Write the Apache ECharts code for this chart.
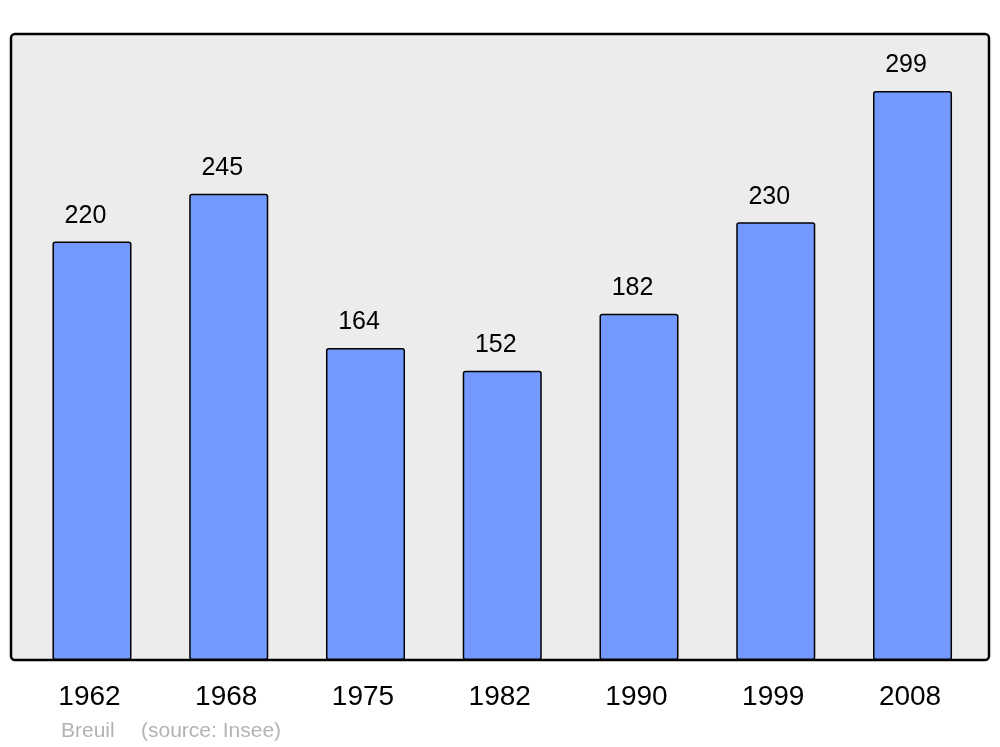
<!DOCTYPE html>
<html>
<head>
<meta charset="utf-8">
<script src="https://cdn.jsdelivr.net/npm/echarts@6/dist/echarts.min.js"></script>
<style>html,body{margin:0;padding:0;background:#fff;}#c{width:1000px;height:747px;}</style>
</head>
<body>
<div id="c"></div>
<script>
const years = ['1962','1968','1975','1982','1990','1999','2008'];
const population = [220, 245, 164, 152, 182, 230, 299];
const commune = 'Breuil';
const source = '(source: Insee)';

const chart = echarts.init(document.getElementById('c'), null, {renderer: 'canvas'});
chart.setOption({
  animation: false,
  backgroundColor: '#ffffff',
  grid: {left: 23.6, right: 19.1, top: 34, bottom: 87, containLabel: false},
  graphic: [
    {type: 'rect', z: -10, shape: {x: 11, y: 34, width: 978, height: 626, r: 4},
     style: {fill: '#ececec', stroke: '#000', lineWidth: 2.5}},
    {type: 'text', left: 61, top: 721, style: {text: commune, fill: '#b3b3b3', font: '21px "Liberation Sans", Arial, sans-serif'}},
    {type: 'text', left: 141, top: 721, style: {text: source, fill: '#b3b3b3', font: '21px "Liberation Sans", Arial, sans-serif'}}
  ],
  xAxis: {
    type: 'category', data: years,
    axisLine: {show: false}, axisTick: {show: false},
    axisLabel: {color: '#000', fontSize: 28, fontFamily: 'Liberation Sans', margin: 23, padding: [0, 5, 0, 0]}
  },
  yAxis: {type: 'value', min: 0, max: 329, show: false, splitLine: {show: false}},
  series: [{
    type: 'bar', data: population, barWidth: '57.8%',
    itemStyle: {color: '#7399ff', borderColor: '#000', borderWidth: 1.5, borderRadius: 2},
    label: {show: true, position: 'top', distance: 13, offset: [-6.5, 0], color: '#000', fontSize: 25, fontFamily: 'Liberation Sans'}
  }]
});
</script>
</body>
</html>
